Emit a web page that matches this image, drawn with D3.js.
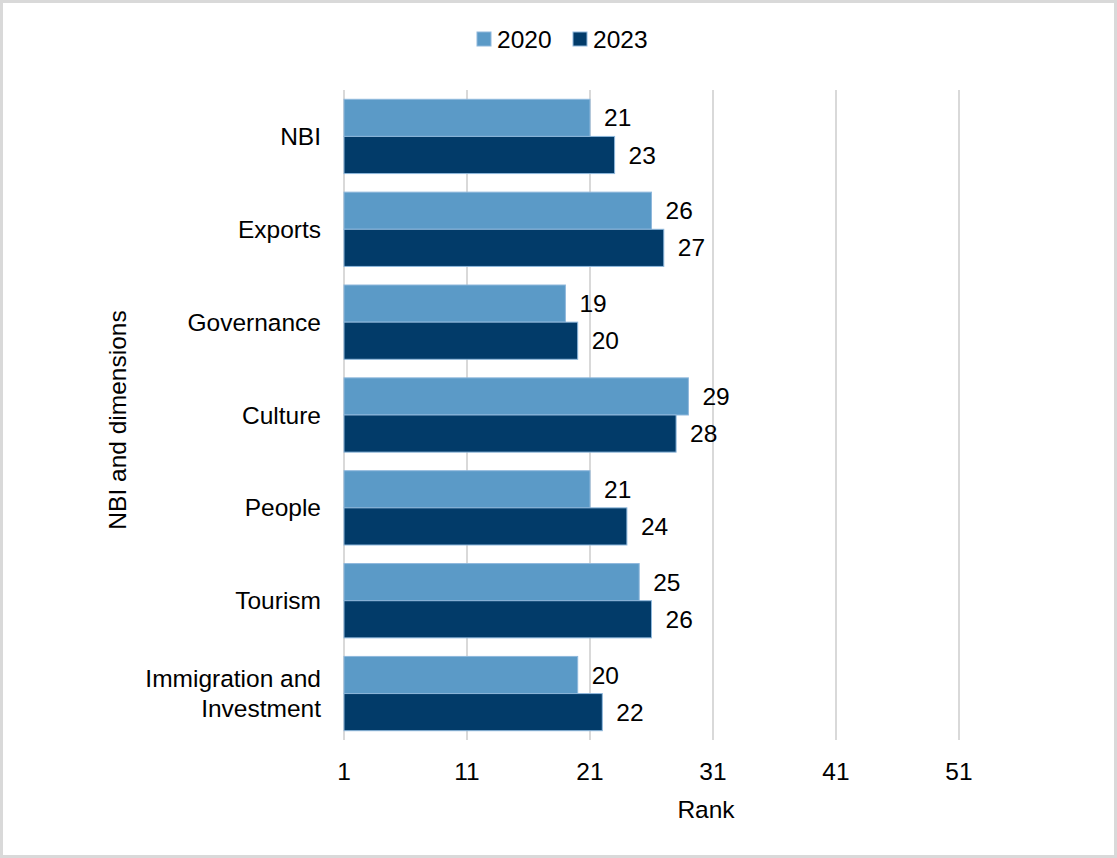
<!DOCTYPE html>
<html>
<head>
<meta charset="utf-8">
<script src="https://cdn.jsdelivr.net/npm/d3@7"></script>
<style>
  html, body { margin: 0; padding: 0; background: #fff; }
  svg { display: block; font-family: "Liberation Sans", Arial, sans-serif; }
</style>
</head>
<body>
<svg id="chart" width="1117" height="858"></svg>
<script>
// Category labels (top to bottom) and rank values per year
const categories = ["NBI", "Exports", "Governance", "Culture", "People", "Tourism", "Immigration and Investment"];
const rank2020 = [21, 26, 19, 29, 21, 25, 20];
const rank2023 = [23, 27, 20, 28, 24, 26, 22];
const seriesNames = ["2020", "2023"];
const xTicks = [1, 11, 21, 31, 41, 51];

const colors = { "2020": "#5B9AC7", "2023": "#023B69" };
const FS = 24.5;

const svg = d3.select("#chart");
const W = 1117, H = 858;

// Outer frame
svg.append("rect")
  .attr("x", 1.5).attr("y", 1.5)
  .attr("width", W - 3).attr("height", H - 3)
  .attr("fill", "#fff").attr("stroke", "#d9d9d9").attr("stroke-width", 3);

const margin = { left: 344, right: 36, top: 90, bottom: 118 };
const plotH = H - margin.top - margin.bottom;

const x = d3.scaleLinear().domain([1, 61]).range([margin.left, margin.left + 60 * 12.3]);

const y = d3.scaleBand().domain(categories)
  .range([margin.top, margin.top + plotH])
  .paddingInner(0.2).paddingOuter(0.1);

const ySub = d3.scaleBand().domain(seriesNames).range([0, y.bandwidth()]);

// Vertical gridlines
svg.append("g").selectAll("line").data(xTicks).join("line")
  .attr("x1", d => x(d)).attr("x2", d => x(d))
  .attr("y1", margin.top).attr("y2", margin.top + plotH)
  .attr("stroke", "#d9d9d9").attr("stroke-width", 2);

const rows = categories.map((c, i) => ({ cat: c, vals: [
  { s: "2020", v: rank2020[i] }, { s: "2023", v: rank2023[i] }
]}));

const g = svg.append("g").selectAll("g").data(rows).join("g")
  .attr("transform", d => `translate(0,${y(d.cat)})`);

g.selectAll("rect").data(d => d.vals).join("rect")
  .attr("x", x(1))
  .attr("y", d => ySub(d.s))
  .attr("width", d => x(d.v) - x(1))
  .attr("height", ySub.bandwidth())
  .attr("fill", d => colors[d.s])
  .attr("stroke", "#8fb8dc").attr("stroke-width", 1);

g.selectAll("text.val").data(d => d.vals).join("text")
  .attr("class", "val")
  .attr("x", d => x(d.v) + 14)
  .attr("y", d => ySub(d.s) + ySub.bandwidth() / 2)
  .attr("dy", "0.35em")
  .attr("font-size", FS).attr("fill", "#000")
  .text(d => d.v);

// Category axis labels
const catLabels = svg.append("g").selectAll("text").data(categories).join("text")
  .attr("text-anchor", "end")
  .attr("font-size", FS).attr("fill", "#000")
  .attr("x", 321)
  .attr("y", d => y(d) + y.bandwidth() / 2);

catLabels.each(function(d) {
  const t = d3.select(this);
  const lines = d === "Immigration and Investment" ? ["Immigration and", "Investment"] : [d];
  const lh = 30;
  lines.forEach((ln, i) => {
    t.append("tspan").attr("x", 321)
      .attr("dy", i === 0 ? `${0.35 * FS - (lines.length - 1) * lh / 2}px` : `${lh}px`)
      .text(ln);
  });
});

// X tick labels
svg.append("g").selectAll("text").data(xTicks).join("text")
  .attr("x", d => x(d)).attr("y", margin.top + plotH + 31)
  .attr("dy", "0.35em")
  .attr("text-anchor", "middle").attr("font-size", FS).attr("fill", "#000")
  .text(d => d);

// Axis titles
svg.append("text")
  .attr("x", 706).attr("y", 809).attr("dy", "0.35em")
  .attr("text-anchor", "middle").attr("font-size", FS).attr("fill", "#000")
  .text("Rank");

svg.append("text")
  .attr("transform", "translate(117,420) rotate(-90)")
  .attr("dy", "0.35em")
  .attr("text-anchor", "middle").attr("font-size", FS).attr("fill", "#000")
  .text("NBI and dimensions");

// Legend
const legend = svg.append("g").attr("transform", "translate(477,39)");
const legItems = legend.selectAll("g").data(seriesNames).join("g")
  .attr("transform", (d, i) => `translate(${i * 96},0)`);
legItems.append("rect")
  .attr("x", 0).attr("y", -7).attr("width", 14).attr("height", 14)
  .attr("fill", d => colors[d]).attr("stroke", "#8fb8dc").attr("stroke-width", 1);
legItems.append("text")
  .attr("x", 20).attr("y", 0).attr("dy", "0.35em")
  .attr("font-size", FS).attr("fill", "#000")
  .text(d => d);
</script>
</body>
</html>
